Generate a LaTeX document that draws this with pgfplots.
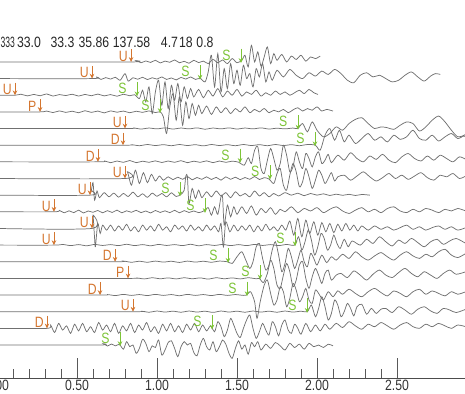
\documentclass[border=0pt]{standalone}
\usepackage{fontspec}
\setmainfont{Liberation Sans}[FakeStretch=0.82]
\usepackage{pgfplots}
\pgfplotsset{compat=1.18}
\usetikzlibrary{arrows.meta}
\definecolor{pcol}{RGB}{212,118,48}
\definecolor{scol}{RGB}{125,196,55}
\definecolor{trc}{RGB}{112,112,112}
\newcommand{\lab}{\fontsize{11.2}{13}\selectfont}
\newcommand{\pk}[3]{%
  \draw[pcol, line width=0.55pt, -{Stealth[length=3.6pt,width=3.4pt]}] ([yshift=9.5pt]axis cs:#2,#3) -- (axis cs:#2,#3);
  \node[pcol, font=\lab, anchor=base, inner sep=0pt] at ([xshift=-5.8pt,yshift=0.6pt]axis cs:#2,#3) {#1};}
\newcommand{\sk}[2]{%
  \draw[scol, line width=0.55pt, -{Stealth[length=3.6pt,width=3.4pt]}] ([yshift=10pt]axis cs:#1,#2) -- ([yshift=-0.8pt]axis cs:#1,#2);
  \node[scol, font=\lab, anchor=base, inner sep=0pt] at ([xshift=-11pt,yshift=1.2pt]axis cs:#1,#2) {S};}
\pgfplotsset{trace/.style={trc, line width=0.55pt, mark=none, smooth, tension=0.45}}
\begin{document}
\begin{tikzpicture}
\begin{axis}[
  width=353.4pt, height=283.5pt, scale only axis,
  xmin=-0.02, xmax=2.925, ymin=-0.98, ymax=21.72,
  axis x line=bottom, axis y line=none,
  x axis line style={-, black!70, line width=0.6pt},
  xtick={0,0.5,1,1.5,2,2.5}, minor x tick num=4,
  xtick align=inside, major tick length=15pt, minor tick length=7pt,
  tick style={black!65, line width=0.6pt},
  ytick=\empty,
  /pgf/number format/assume math mode=true,
  xticklabel style={font=\lab, text=black!80, inner sep=1.2pt, /pgf/number format/.cd, fixed, fixed zerofill, precision=2},
  clip=true,
]
% Y18
\addplot[trace] coordinates {(0,18) (0.84,18) (0.87,18.08) (0.90,17.95) (0.93,18.06) (0.96,17.97) (0.99,18.1) (1.02,17.94) (1.05,18.05) (1.08,17.98) (1.11,18.12) (1.14,17.95) (1.17,18.04) (1.20,17.92) (1.23,18.1) (1.26,17.96) (1.29,18.05) (1.32,17.9) (1.35,18.15) (1.38,17.95) (1.41,18.12) (1.44,17.9) (1.47,18.2) (1.50,17.95) (1.53,18.1) (1.55,18.4) (1.57,17.7) (1.59,19.0) (1.61,18.0) (1.63,18.6) (1.65,17.75) (1.67,18.3) (1.69,18.9) (1.71,17.9) (1.73,18.5) (1.75,18.1) (1.78,18.45) (1.81,18.0) (1.84,18.35) (1.87,18.15) (1.90,18.4) (1.93,18.05) (1.96,18.3) (1.99,18.2) (2.02,18.35)};
% Y17
\addplot[trace] coordinates {(0,17) (0.594,17) (0.62,17.1) (0.65,16.95) (0.68,17.06) (0.71,16.97) (0.74,17.08) (0.77,16.9) (0.80,17.3) (0.82,16.85) (0.85,17.05) (0.88,16.96) (0.91,17.08) (0.94,16.94) (0.97,17.05) (1.00,16.97) (1.03,17.1) (1.06,16.95) (1.09,17.04) (1.12,16.92) (1.15,17.07) (1.18,16.97) (1.21,17.1) (1.24,16.95) (1.27,17.02) (1.30,16.8) (1.32,17.4) (1.34,18.4) (1.36,16.5) (1.38,18.5) (1.40,16.2) (1.42,17.6) (1.44,16.4) (1.46,17.9) (1.48,16.7) (1.50,17.5) (1.52,16.6) (1.54,17.8) (1.56,17.0) (1.58,17.3) (1.60,16.5) (1.62,17.6) (1.64,17.1) (1.66,17.9) (1.68,16.8) (1.70,17.4) (1.72,16.9) (1.75,17.5) (1.79,17.1) (1.83,17.55) (1.87,17.2) (1.91,17.0) (1.95,17.35) (1.99,17.15) (2.03,17.45) (2.07,17.25) (2.11,17.55) (2.15,17.3) (2.19,16.9) (2.23,16.75) (2.27,17.2) (2.31,17.35) (2.35,17.1) (2.39,17.2) (2.43,17.0) (2.47,16.8) (2.51,16.9) (2.55,17.2) (2.59,17.4) (2.63,17.1) (2.67,16.85) (2.71,17.15) (2.74,17.3) (2.77,17.25)};
% Y16
\addplot[trace] coordinates {(0,16) (0.1125,16) (0.15,16.06) (0.19,15.96) (0.23,16.05) (0.27,15.97) (0.31,16.08) (0.35,15.95) (0.39,16.04) (0.43,15.98) (0.47,16.06) (0.51,15.95) (0.55,16.05) (0.59,15.97) (0.63,16.07) (0.67,15.96) (0.71,16.04) (0.75,15.94) (0.79,16.06) (0.83,15.97) (0.86,16.03) (0.89,15.8) (0.91,16.3) (0.93,15.6) (0.95,16.5) (0.97,14.9) (0.99,16.2) (1.01,16.9) (1.03,15.4) (1.05,16.8) (1.07,15.2) (1.09,16.6) (1.11,15.7) (1.13,16.7) (1.15,15.6) (1.17,16.5) (1.19,15.8) (1.21,16.4) (1.23,15.9) (1.26,16.35) (1.29,15.85) (1.32,16.3) (1.35,15.95) (1.38,16.4) (1.41,15.9) (1.44,16.25) (1.47,16.0) (1.50,16.35) (1.53,15.95) (1.56,16.2) (1.59,16.05) (1.62,16.3) (1.65,15.95) (1.68,16.15) (1.71,16.0) (1.74,16.25) (1.77,16.05) (1.80,16.2) (1.83,16.0) (1.86,16.15) (1.89,16.3) (1.92,16.1) (1.95,16.35) (1.98,16.15) (2.006,16.05)};
% Y15
\addplot[trace] coordinates {(0,15) (0.269,15) (0.31,15.05) (0.35,14.96) (0.39,15.06) (0.43,14.97) (0.47,15.04) (0.51,14.95) (0.55,15.07) (0.59,14.97) (0.63,15.05) (0.67,14.94) (0.71,15.06) (0.75,14.98) (0.79,15.05) (0.83,14.95) (0.87,15.04) (0.91,14.97) (0.95,15.06) (0.99,14.96) (1.02,15.0) (1.04,14.7) (1.06,13.7) (1.08,15.3) (1.10,16.1) (1.12,14.5) (1.14,15.9) (1.16,14.2) (1.18,15.6) (1.20,14.6) (1.22,15.5) (1.24,14.8) (1.26,15.4) (1.28,14.9) (1.31,15.35) (1.34,14.85) (1.37,15.3) (1.40,14.95) (1.43,15.25) (1.46,14.9) (1.49,15.2) (1.52,15.0) (1.55,15.3) (1.58,14.95) (1.61,15.15) (1.64,15.0) (1.67,15.2) (1.70,14.95) (1.73,15.1) (1.76,15.0) (1.79,15.15) (1.82,14.95) (1.85,15.12) (1.88,15.25) (1.91,15.05) (1.94,15.2) (1.97,15.1) (2.00,15.3) (2.03,15.05) (2.06,15.15) (2.10,15.05)};
% Y14
\addplot[trace] coordinates {(0,14) (0.80,14) (0.85,14.04) (0.90,13.97) (0.95,14.03) (1.00,13.98) (1.05,14.04) (1.10,13.97) (1.15,14.03) (1.20,13.98) (1.25,14.04) (1.30,13.96) (1.35,14.03) (1.40,13.98) (1.45,14.04) (1.50,13.97) (1.55,14.03) (1.60,13.98) (1.65,14.04) (1.70,13.97) (1.75,14.02) (1.80,13.98) (1.85,14.03) (1.88,14.0) (1.91,14.3) (1.94,13.8) (1.97,14.4) (2.00,13.9) (2.04,13.5) (2.08,13.7) (2.12,14.1) (2.16,13.9) (2.20,14.3) (2.24,14.55) (2.28,14.65) (2.32,14.3) (2.36,14.0) (2.40,14.1) (2.44,14.05) (2.48,13.95) (2.52,14.2) (2.56,14.4) (2.60,14.3) (2.64,13.85) (2.68,14.1) (2.72,14.5) (2.76,14.75) (2.80,14.4) (2.84,13.9) (2.88,13.5) (2.92,13.6) (2.95,13.8)};
% Y13
\addplot[trace] coordinates {(0,13) (0.79,13) (0.84,13.03) (0.89,12.97) (0.94,13.04) (0.99,12.98) (1.04,13.03) (1.09,12.97) (1.14,13.04) (1.19,12.98) (1.24,13.03) (1.29,12.96) (1.34,13.04) (1.39,12.98) (1.44,13.03) (1.49,12.97) (1.54,13.04) (1.59,12.98) (1.64,13.03) (1.69,12.97) (1.74,13.04) (1.79,12.98) (1.84,13.03) (1.89,12.97) (1.94,13.04) (1.99,13.0) (2.02,12.7) (2.05,13.6) (2.08,14.0) (2.11,13.3) (2.14,13.9) (2.17,13.2) (2.20,13.6) (2.24,13.1) (2.28,13.4) (2.32,13.7) (2.36,13.3) (2.40,13.5) (2.44,13.2) (2.48,13.6) (2.52,13.35) (2.56,13.5) (2.60,13.9) (2.64,13.4) (2.68,13.3) (2.72,13.6) (2.76,13.25) (2.80,13.5) (2.84,13.7) (2.88,13.4) (2.92,13.55) (2.95,13.3)};
% Y12
\addplot[trace] coordinates {(0,12) (0.63,12) (0.67,12.06) (0.71,11.95) (0.75,12.05) (0.79,11.97) (0.83,12.08) (0.87,11.95) (0.91,12.04) (0.95,11.97) (0.99,12.06) (1.03,11.96) (1.07,12.05) (1.11,11.97) (1.15,12.07) (1.19,11.95) (1.23,12.04) (1.27,11.97) (1.31,12.06) (1.35,11.95) (1.39,12.05) (1.43,11.97) (1.47,12.04) (1.51,11.98) (1.545,11.8) (1.57,12.25) (1.59,11.9) (1.61,12.7) (1.63,12.9) (1.65,11.6) (1.67,11.3) (1.69,12.1) (1.71,12.8) (1.73,12.2) (1.75,11.5) (1.77,11.9) (1.79,13.0) (1.81,12.4) (1.83,11.4) (1.85,11.7) (1.87,12.6) (1.89,12.0) (1.91,11.6) (1.93,12.5) (1.95,12.2) (1.97,11.7) (1.99,12.3) (2.01,12.6) (2.03,11.9) (2.05,12.1) (2.07,12.45) (2.09,11.95) (2.13,12.4) (2.17,12.1) (2.21,12.55) (2.25,12.2) (2.29,12.0) (2.33,12.35) (2.37,12.15) (2.41,12.45) (2.45,12.1) (2.49,11.95) (2.53,12.3) (2.57,12.5) (2.61,12.2) (2.65,12.05) (2.69,12.35) (2.73,12.1) (2.77,12.4) (2.81,12.2) (2.85,12.0) (2.89,12.3) (2.93,12.15)};
% Y11
\addplot[trace] coordinates {(0,11) (0.80,11) (0.815,11.4) (0.84,10.6) (0.865,11.5) (0.89,10.7) (0.915,11.35) (0.94,10.75) (0.965,11.25) (0.99,10.85) (1.015,11.15) (1.04,10.9) (1.07,11.1) (1.10,10.93) (1.13,11.08) (1.16,10.95) (1.19,11.12) (1.22,10.92) (1.25,11.06) (1.28,10.95) (1.31,11.1) (1.34,10.94) (1.37,11.07) (1.40,10.9) (1.43,11.1) (1.46,10.95) (1.49,11.08) (1.52,10.93) (1.55,11.06) (1.58,10.95) (1.61,11.12) (1.64,10.94) (1.67,11.05) (1.70,10.97) (1.73,10.7) (1.75,11.3) (1.77,11.6) (1.79,10.6) (1.81,10.3) (1.83,11.2) (1.85,11.9) (1.87,11.4) (1.89,10.5) (1.91,10.8) (1.93,11.6) (1.95,11.1) (1.97,10.4) (1.99,10.9) (2.01,11.5) (2.03,11.2) (2.05,10.7) (2.07,11.0) (2.09,11.35) (2.11,10.85) (2.13,11.1) (2.17,11.2) (2.21,10.9) (2.25,11.15) (2.29,11.4) (2.33,11.1) (2.37,10.85) (2.41,11.05) (2.45,11.3) (2.49,11.0) (2.53,11.2) (2.57,10.95) (2.61,11.15) (2.65,11.35) (2.69,11.05) (2.73,10.9) (2.77,11.2) (2.81,11.1) (2.85,11.3) (2.89,11.0) (2.93,11.15)};
% Y10
\addplot[trace] coordinates {(0,10) (0.58,10) (0.59,10.3) (0.60,10.75) (0.61,9.7) (0.625,10.25) (0.64,9.85) (0.67,10.15) (0.70,9.9) (0.73,10.12) (0.76,9.88) (0.79,10.1) (0.82,9.92) (0.85,10.18) (0.88,9.9) (0.91,10.08) (0.94,9.87) (0.97,10.12) (1.00,9.93) (1.03,10.1) (1.06,9.9) (1.09,10.14) (1.12,9.92) (1.15,10.05) (1.17,10.3) (1.18,11.15) (1.19,11.1) (1.20,9.5) (1.22,10.4) (1.24,9.8) (1.26,10.3) (1.28,9.85) (1.31,10.2) (1.34,9.9) (1.37,10.25) (1.40,9.95) (1.43,10.15) (1.46,9.85) (1.49,10.2) (1.52,9.95) (1.55,10.1) (1.58,9.9) (1.61,10.25) (1.64,9.95) (1.67,10.15) (1.70,9.9) (1.73,10.1) (1.76,9.95) (1.80,10.15) (1.84,10.0) (1.88,10.12) (1.92,9.97) (1.96,10.1) (2.00,10.0) (2.04,10.08) (2.08,9.98) (2.12,10.06) (2.16,9.99) (2.20,10.05) (2.24,9.98) (2.28,10.04) (2.33,10.0)};
% Y9
\addplot[trace] coordinates {(0,9) (0.356,9) (0.39,9.08) (0.42,8.94) (0.45,9.06) (0.48,8.95) (0.51,9.1) (0.54,8.93) (0.57,9.05) (0.60,8.97) (0.63,9.08) (0.66,8.94) (0.69,9.07) (0.72,8.96) (0.75,9.1) (0.78,8.94) (0.81,9.06) (0.84,8.97) (0.87,9.09) (0.90,8.95) (0.93,9.05) (0.96,8.93) (0.99,9.08) (1.02,8.96) (1.05,9.06) (1.08,8.95) (1.11,9.09) (1.14,8.94) (1.17,9.07) (1.20,8.96) (1.23,9.05) (1.26,8.95) (1.29,9.04) (1.32,9.25) (1.34,8.8) (1.36,9.3) (1.38,8.85) (1.40,9.9) (1.41,9.85) (1.42,8.2) (1.44,9.4) (1.46,8.7) (1.48,9.3) (1.50,8.85) (1.53,9.3) (1.56,8.9) (1.59,9.35) (1.62,8.8) (1.65,9.2) (1.68,8.95) (1.71,9.25) (1.74,8.85) (1.77,9.15) (1.80,9.0) (1.84,9.3) (1.88,8.95) (1.92,9.2) (1.96,9.05) (2.00,9.25) (2.04,8.95) (2.08,9.15) (2.12,9.3) (2.16,9.05) (2.20,8.9) (2.24,9.1) (2.28,9.25) (2.32,9.0) (2.36,9.15) (2.40,8.95) (2.44,9.2) (2.48,9.3) (2.52,9.05) (2.56,8.95) (2.60,9.15) (2.64,9.0) (2.68,9.2) (2.72,9.1) (2.76,8.95) (2.80,9.15) (2.84,9.05) (2.88,9.2) (2.93,9.05)};
% Y8
\addplot[trace] coordinates {(0,8) (0.594,8) (0.60,8.8) (0.61,7.4) (0.615,6.9) (0.63,8.3) (0.645,7.7) (0.66,8.2) (0.685,7.9) (0.71,8.2) (0.735,7.85) (0.76,8.15) (0.785,7.9) (0.81,8.25) (0.835,7.85) (0.86,8.1) (0.885,7.8) (0.91,8.2) (0.935,7.9) (0.96,8.15) (0.985,7.85) (1.01,8.25) (1.035,7.9) (1.06,8.1) (1.085,7.8) (1.11,8.2) (1.135,7.95) (1.16,8.15) (1.185,7.85) (1.21,8.2) (1.235,7.9) (1.26,8.1) (1.285,7.85) (1.31,8.2) (1.335,7.9) (1.36,8.15) (1.385,7.8) (1.40,8.3) (1.415,6.9) (1.43,8.4) (1.455,7.8) (1.48,8.2) (1.505,7.85) (1.53,8.15) (1.555,7.9) (1.58,8.2) (1.605,7.8) (1.63,8.15) (1.655,7.85) (1.68,8.25) (1.705,7.9) (1.73,8.1) (1.755,7.85) (1.78,8.2) (1.805,7.9) (1.83,8.45) (1.855,7.6) (1.88,8.6) (1.905,7.5) (1.93,8.5) (1.955,7.7) (1.98,8.4) (2.005,7.6) (2.03,8.35) (2.055,7.8) (2.08,8.3) (2.105,7.75) (2.13,8.25) (2.155,7.85) (2.18,8.3) (2.205,7.9) (2.23,8.2) (2.255,7.85) (2.28,8.15) (2.32,7.9) (2.36,8.15) (2.40,7.95) (2.44,8.1) (2.48,7.9) (2.52,8.05) (2.56,8.2) (2.60,7.95) (2.64,8.1) (2.68,7.9) (2.72,8.05) (2.76,8.15) (2.80,7.95) (2.84,8.1) (2.88,7.9) (2.93,8.05)};
% Y7
\addplot[trace] coordinates {(0,7) (0.356,7) (0.41,7.04) (0.46,6.97) (0.51,7.03) (0.56,6.96) (0.61,7.04) (0.66,6.98) (0.71,7.03) (0.76,6.97) (0.81,7.05) (0.86,6.97) (0.91,7.03) (0.96,6.96) (1.01,7.04) (1.06,6.98) (1.11,7.03) (1.16,6.97) (1.21,7.05) (1.26,6.96) (1.31,7.03) (1.36,6.98) (1.41,7.04) (1.46,6.97) (1.51,7.03) (1.56,6.97) (1.61,7.04) (1.66,6.98) (1.71,7.03) (1.76,6.97) (1.81,7.04) (1.86,7.0) (1.885,7.5) (1.905,6.7) (1.925,7.2) (1.945,7.9) (1.965,7.3) (1.985,6.4) (2.005,6.9) (2.025,7.7) (2.045,7.4) (2.065,6.7) (2.085,7.0) (2.105,7.6) (2.125,7.1) (2.145,6.8) (2.17,7.35) (2.195,6.9) (2.22,7.25) (2.27,7.0) (2.31,7.35) (2.35,7.1) (2.39,7.5) (2.43,7.2) (2.47,6.95) (2.51,7.3) (2.55,7.1) (2.59,7.4) (2.63,7.15) (2.67,6.9) (2.71,7.2) (2.75,7.35) (2.79,7.05) (2.83,7.25) (2.87,7.4) (2.93,7.1)};
% Y6
\addplot[trace] coordinates {(0,6) (0.74,6) (0.79,6.04) (0.84,5.97) (0.89,6.03) (0.94,5.97) (0.99,6.04) (1.04,5.98) (1.09,6.03) (1.14,5.96) (1.19,6.04) (1.24,5.98) (1.29,6.03) (1.34,5.97) (1.39,6.04) (1.44,6.0) (1.47,5.9) (1.50,6.3) (1.53,6.6) (1.555,6.1) (1.58,5.6) (1.60,6.0) (1.62,6.9) (1.64,7.1) (1.66,6.2) (1.68,5.5) (1.70,5.8) (1.72,6.7) (1.74,7.2) (1.76,6.4) (1.78,5.4) (1.80,5.9) (1.82,6.8) (1.84,6.3) (1.86,5.6) (1.88,6.1) (1.90,6.7) (1.92,6.0) (1.94,5.7) (1.96,6.5) (1.98,6.2) (2.00,5.8) (2.03,6.4) (2.06,5.95) (2.09,6.3) (2.12,6.1) (2.16,6.45) (2.20,6.2) (2.24,6.6) (2.28,6.3) (2.32,6.1) (2.36,6.35) (2.40,6.55) (2.44,6.3) (2.48,6.1) (2.52,6.4) (2.56,6.6) (2.60,6.35) (2.64,6.2) (2.68,6.45) (2.72,6.3) (2.76,6.6) (2.80,6.75) (2.84,6.4) (2.88,6.25) (2.93,6.5)};
% Y5
\addplot[trace] coordinates {(0,5) (0.82,5) (0.87,5.03) (0.92,4.97) (0.97,5.04) (1.02,4.98) (1.07,5.03) (1.12,4.97) (1.17,5.04) (1.22,4.98) (1.27,5.03) (1.32,4.96) (1.37,5.04) (1.42,4.98) (1.47,5.03) (1.52,4.97) (1.57,5.04) (1.62,4.98) (1.64,5.0) (1.665,4.75) (1.69,5.3) (1.71,6.1) (1.73,5.6) (1.75,4.6) (1.77,4.4) (1.79,5.2) (1.81,5.9) (1.83,5.4) (1.85,4.5) (1.87,4.9) (1.89,5.8) (1.91,6.0) (1.93,5.0) (1.95,4.4) (1.97,5.1) (1.99,5.6) (2.01,5.2) (2.03,4.7) (2.05,5.3) (2.07,5.5) (2.09,4.9) (2.12,5.2) (2.15,5.3) (2.19,5.05) (2.23,5.45) (2.27,5.2) (2.31,4.9) (2.35,5.25) (2.39,5.5) (2.43,5.2) (2.47,5.05) (2.51,5.35) (2.55,5.6) (2.59,5.3) (2.63,5.1) (2.67,5.4) (2.71,5.2) (2.75,5.0) (2.79,5.3) (2.83,5.5) (2.87,5.25) (2.93,5.4)};
% Y4
\addplot[trace] coordinates {(0,4) (0.644,4) (0.69,4.03) (0.74,3.97) (0.79,4.04) (0.84,3.98) (0.89,4.03) (0.94,3.97) (0.99,4.04) (1.04,3.98) (1.09,4.03) (1.14,3.96) (1.19,4.04) (1.24,3.98) (1.29,4.03) (1.34,3.97) (1.39,4.04) (1.44,3.98) (1.49,4.03) (1.54,3.98) (1.56,4.0) (1.585,4.2) (1.61,3.6) (1.625,2.6) (1.645,3.6) (1.67,4.6) (1.69,4.9) (1.71,4.1) (1.73,3.4) (1.75,3.7) (1.77,4.5) (1.79,4.2) (1.81,3.3) (1.83,3.8) (1.85,4.7) (1.87,4.3) (1.89,3.6) (1.91,3.9) (1.93,4.4) (1.95,3.7) (1.97,3.5) (1.99,4.3) (2.01,4.1) (2.04,3.7) (2.07,4.2) (2.10,3.9) (2.13,4.25) (2.16,4.05) (2.20,4.35) (2.24,4.1) (2.28,3.9) (2.32,4.2) (2.36,4.4) (2.40,4.15) (2.44,3.95) (2.48,4.25) (2.52,4.1) (2.56,3.9) (2.60,4.2) (2.64,4.35) (2.68,4.05) (2.72,4.25) (2.76,4.1) (2.80,3.95) (2.84,4.2) (2.88,4.05) (2.93,4.2)};
% Y3
\addplot[trace] coordinates {(0,3) (0.85,3) (0.90,3.03) (0.95,2.97) (1.00,3.04) (1.05,2.98) (1.10,3.03) (1.15,2.97) (1.20,3.04) (1.25,2.98) (1.30,3.03) (1.35,2.96) (1.40,3.04) (1.45,2.98) (1.50,3.03) (1.55,2.97) (1.60,3.04) (1.65,2.98) (1.70,3.03) (1.75,2.97) (1.80,3.04) (1.85,2.98) (1.90,3.03) (1.94,3.0) (1.965,3.4) (1.99,2.7) (2.01,3.2) (2.03,3.9) (2.05,3.3) (2.07,2.5) (2.09,2.9) (2.11,3.7) (2.13,3.4) (2.15,2.7) (2.17,3.0) (2.19,3.5) (2.21,3.2) (2.23,2.75) (2.25,3.3) (2.28,3.45) (2.31,2.85) (2.34,3.2) (2.37,2.9) (2.40,3.15) (2.43,3.2) (2.47,2.95) (2.51,3.3) (2.55,3.1) (2.59,2.85) (2.63,3.15) (2.67,3.3) (2.71,3.05) (2.75,2.9) (2.79,3.2) (2.83,3.1) (2.87,2.95) (2.93,3.15)};
% Y2
\addplot[trace] coordinates {(0,2) (0.3125,2) (0.335,2.2) (0.36,1.75) (0.385,2.3) (0.41,1.9) (0.435,2.15) (0.46,1.7) (0.485,2.25) (0.51,1.85) (0.535,2.3) (0.56,1.8) (0.585,2.1) (0.61,1.75) (0.635,2.35) (0.66,1.9) (0.685,2.2) (0.71,1.8) (0.735,2.3) (0.76,1.7) (0.785,2.15) (0.81,1.85) (0.835,2.3) (0.86,1.75) (0.885,2.2) (0.91,1.9) (0.935,2.35) (0.96,1.8) (0.985,2.1) (1.01,1.7) (1.035,2.25) (1.06,1.85) (1.085,2.3) (1.11,1.8) (1.135,2.15) (1.16,1.75) (1.185,2.25) (1.21,1.9) (1.235,2.3) (1.26,1.8) (1.285,2.2) (1.31,1.85) (1.335,2.15) (1.36,1.8) (1.38,2.4) (1.40,2.1) (1.42,1.5) (1.44,1.9) (1.46,2.6) (1.48,2.2) (1.50,1.7) (1.52,1.45) (1.54,2.0) (1.56,2.5) (1.58,2.8) (1.60,2.0) (1.62,1.4) (1.64,1.8) (1.66,2.3) (1.68,1.9) (1.70,1.6) (1.72,2.4) (1.74,2.1) (1.76,1.55) (1.78,2.2) (1.80,2.5) (1.82,1.9) (1.84,1.7) (1.86,2.25) (1.88,2.0) (1.90,1.65) (1.93,2.3) (1.96,1.8) (1.99,2.2) (2.02,1.85) (2.05,2.25) (2.08,1.95) (2.12,2.3) (2.16,2.05) (2.20,2.4) (2.24,2.15) (2.28,1.95) (2.32,2.25) (2.36,2.1) (2.40,2.35) (2.44,2.15) (2.48,1.95) (2.52,2.2) (2.56,2.35) (2.60,2.1) (2.64,2.0) (2.68,2.25) (2.72,2.1) (2.76,2.3) (2.80,2.15) (2.84,2.0) (2.88,2.2) (2.93,2.1)};
% Y1
\addplot[trace] coordinates {(0,1) (0.64,1) (0.665,1.08) (0.69,0.94) (0.715,1.06) (0.74,0.95) (0.765,1.04) (0.79,0.75) (0.81,1.2) (0.83,0.9) (0.85,1.0) (0.87,0.5) (0.89,0.8) (0.91,1.35) (0.93,1.1) (0.95,0.6) (0.97,0.95) (0.99,0.85) (1.01,1.3) (1.03,0.4) (1.05,0.7) (1.07,1.15) (1.09,1.25) (1.11,0.8) (1.13,0.3) (1.15,0.9) (1.17,1.2) (1.19,1.0) (1.21,1.1) (1.23,0.55) (1.25,0.35) (1.27,1.0) (1.29,1.4) (1.31,0.9) (1.33,0.7) (1.35,1.2) (1.37,0.6) (1.39,0.9) (1.41,1.3) (1.43,1.05) (1.45,0.5) (1.47,0.2) (1.49,0.8) (1.51,1.25) (1.53,0.75) (1.55,1.0) (1.57,0.45) (1.59,1.15) (1.61,0.9) (1.63,1.2) (1.65,0.7) (1.68,1.05) (1.71,0.8) (1.74,1.15) (1.77,0.95) (1.80,0.7) (1.83,1.1) (1.86,0.85) (1.89,1.05) (1.92,0.75) (1.95,1.1) (1.98,0.9) (2.01,1.0) (2.04,0.85) (2.07,1.05) (2.10,0.95)};
% P picks
\pk{U}{0.838}{18}
\pk{U}{0.594}{17}
\pk{U}{0.1125}{16}
\pk{P}{0.269}{15}
\pk{U}{0.80}{14}
\pk{D}{0.7875}{13}
\pk{D}{0.631}{12}
\pk{U}{0.80}{11}
\pk{U}{0.581}{10}
\pk{U}{0.356}{9}
\pk{U}{0.594}{8}
\pk{U}{0.356}{7}
\pk{D}{0.738}{6}
\pk{P}{0.819}{5}
\pk{D}{0.644}{4}
\pk{U}{0.85}{3}
\pk{D}{0.3125}{2}
% S picks
\sk{1.525}{18}
\sk{1.269}{17}
\sk{0.875}{16}
\sk{1.019}{15}
\sk{1.881}{14}
\sk{1.9875}{13}
\sk{1.519}{12}
\sk{1.706}{11}
\sk{1.144}{10}
\sk{1.30}{9}
\sk{1.863}{7}
\sk{1.444}{6}
\sk{1.644}{5}
\sk{1.5625}{4}
\sk{1.938}{3}
\sk{1.344}{2}
\sk{0.769}{1}
% top numbers
\node[font=\lab, text=black!85, anchor=west, inner sep=0pt, xscale=0.7] at ([xshift=0.3pt]axis cs:0.01875,19.2) {333};
\node[font=\lab, text=black!85, inner sep=0pt] at (axis cs:0.20,19.2) {33.0};
\node[font=\lab, text=black!85, inner sep=0pt] at (axis cs:0.409,19.2) {33.3};
\node[font=\lab, text=black!85, inner sep=0pt] at (axis cs:0.606,19.2) {35.86};
\node[font=\lab, text=black!85, inner sep=0pt] at (axis cs:0.841,19.2) {137.58};
\node[font=\lab, text=black!85, inner sep=0pt] at (axis cs:1.078,19.2) {4.7};
\node[font=\lab, text=black!85, inner sep=0pt] at (axis cs:1.181,19.2) {18};
\node[font=\lab, text=black!85, inner sep=0pt] at (axis cs:1.30,19.2) {0.8};
\coordinate (bbsw) at (axis cs:0.01875,-0.98);
\coordinate (bbne) at (axis cs:2.925,21.72);
\end{axis}
\pgfresetboundingbox
\path ([yshift=-12pt]bbsw) rectangle (bbne);
\end{tikzpicture}
\end{document}
